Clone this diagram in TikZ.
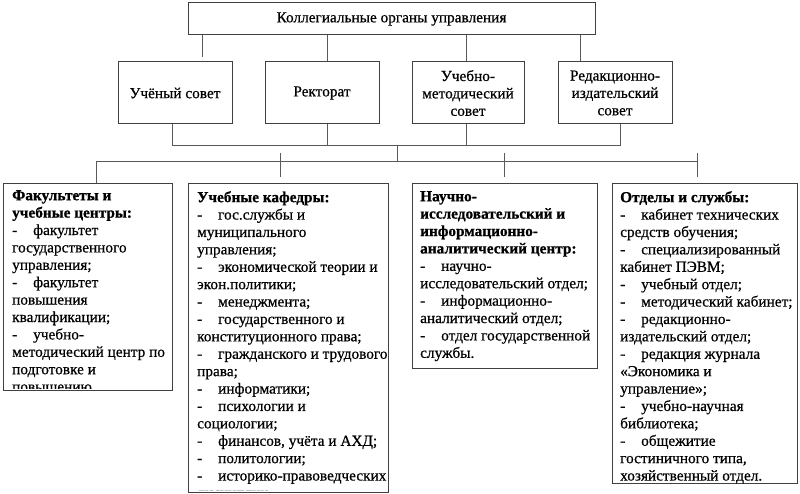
\documentclass[tikz,border=0pt]{standalone}
\usepackage{fontspec}
\setmainfont{Liberation Serif}[UprightFeatures={FakeBold=0.6},BoldFeatures={FakeBold=0.8}]
\newcommand\fs{\fontsize{15.3}{17.4}\selectfont}
\newcommand\itm{\makebox[21pt][l]{-}}
\begin{document}
\begin{tikzpicture}[x=1pt,y=-1pt,
  box/.style={draw=black!75, line width=1pt, fill=white, inner sep=0pt, font=\fs, align=center},
  conn/.style={draw=black!65, line width=1pt},
  txt/.style={anchor=north west, inner sep=0pt, font=\fs, align=left}]
\useasboundingbox (0,0) rectangle (800,494);
% top box
\node[box, minimum width=407, minimum height=32] (top) at (391.5,19) {Коллегиальные органы управления};
% second row
\node[box, minimum width=114, minimum height=62] (b1) at (175,93) {Учёный совет};
\node[box, minimum width=114, minimum height=62] (b2) at (322,93) {Ректорат};
\node[box, minimum width=112, minimum height=62] (b3) at (468,93) {Учебно-\\методический\\совет};
\node[box, minimum width=114, minimum height=62] (b4) at (615,93) {Редакционно-\\издательский\\совет};
% x positions of connectors
\coordinate (t1) at (202,57);
\coordinate (t2) at (327,0);
\coordinate (t3) at (466,0);
\coordinate (t4) at (580,0);
\coordinate (u1) at (172,146);
\coordinate (u4) at (620,146);
\coordinate (m) at (397,162);
\coordinate (k1) at (96,162);
\coordinate (k2) at (280,153);
\coordinate (k3) at (504,153);
\coordinate (k4) at (697,153);
% bottom boxes
\node[box, anchor=north west, minimum width=169, minimum height=207] (c1) at (3,183) {};
\node[box, anchor=north west, minimum width=200, minimum height=309] (c2) at (188,183) {};
\node[box, anchor=north west, minimum width=185, minimum height=185] (c3) at (412,183) {};
\node[box, anchor=north west, minimum width=185, minimum height=300] (c4) at (612,183) {};
% connectors top -> row 2
\draw[conn] (top.south -| t1) -- (t1);
\draw[conn] (top.south -| t2) -- (b2.north -| t2);
\draw[conn] (top.south -| t3) -- (b3.north -| t3);
\draw[conn] (top.south -| t4) -- (b4.north -| t4);
% row 2 -> bus
\draw[conn] (b1.south -| u1) -- (u1) -- (u4) -- (b4.south -| u4);
\draw[conn] (b2.south -| t2) -- (u1 -| t2);
\draw[conn] (b3.south -| t3) -- (u1 -| t3);
\draw[conn] (u1 -| m) -- (m);
% lower bus
\draw[conn] (c1.north -| k1) -- (k1) -- (k1 -| k4);
\draw[conn] (k2) -- ++(0,24);
\draw[conn] (k3) -- ++(0,24);
\draw[conn] (k4) -- ++(0,24);
% texts
\begin{scope}
\clip (c1.north west) rectangle ([yshift=3pt]c1.south east);
\node[txt] (x1) at ([xshift=9pt,yshift=-7pt]c1.north west) {\textbf{Факультеты и}\\\textbf{учебные центры:}\\
\itm факультет\\государственного\\управления;\\
\itm факультет\\повышения\\квалификации;\\
\itm учебно-\\методический центр по\\подготовке и\\повышению};
\end{scope}
\begin{scope}
\clip (c2.north west) rectangle ([yshift=3pt]c2.south east);
\node[txt] (x2) at ([xshift=9pt,yshift=-8pt]c2.north west) {\textbf{Учебные кафедры:}\\
\itm гос.службы и\\муниципального\\управления;\\
\itm экономической теории и\\экон.политики;\\
\itm менеджмента;\\
\itm государственного и\\конституционного права;\\
\itm гражданского и трудового\\права;\\
\itm информатики;\\
\itm психологии и\\социологии;\\
\itm финансов, учёта и АХД;\\
\itm политологии;\\
\itm историко-правоведческих\\дисциплин};
\end{scope}
\node[txt] (x3) at ([xshift=8pt,yshift=-8pt]c3.north west) {\textbf{Научно-}\\\textbf{исследовательский и}\\\textbf{информационно-}\\\textbf{аналитический центр:}\\
\itm научно-\\исследовательский отдел;\\
\itm информационно-\\аналитический отдел;\\
\itm отдел государственной\\службы.};
\node[txt] (x4) at ([xshift=8pt,yshift=-8pt]c4.north west) {\textbf{Отделы и службы:}\\
\itm кабинет технических\\средств обучения;\\
\itm специализированный\\кабинет ПЭВМ;\\
\itm учебный отдел;\\
\itm методический кабинет;\\
\itm редакционно-\\издательский отдел;\\
\itm редакция журнала\\«Экономика и\\управление»;\\
\itm учебно-научная\\библиотека;\\
\itm общежитие\\гостиничного типа,\\хозяйственный отдел.};
\end{tikzpicture}
\end{document}
